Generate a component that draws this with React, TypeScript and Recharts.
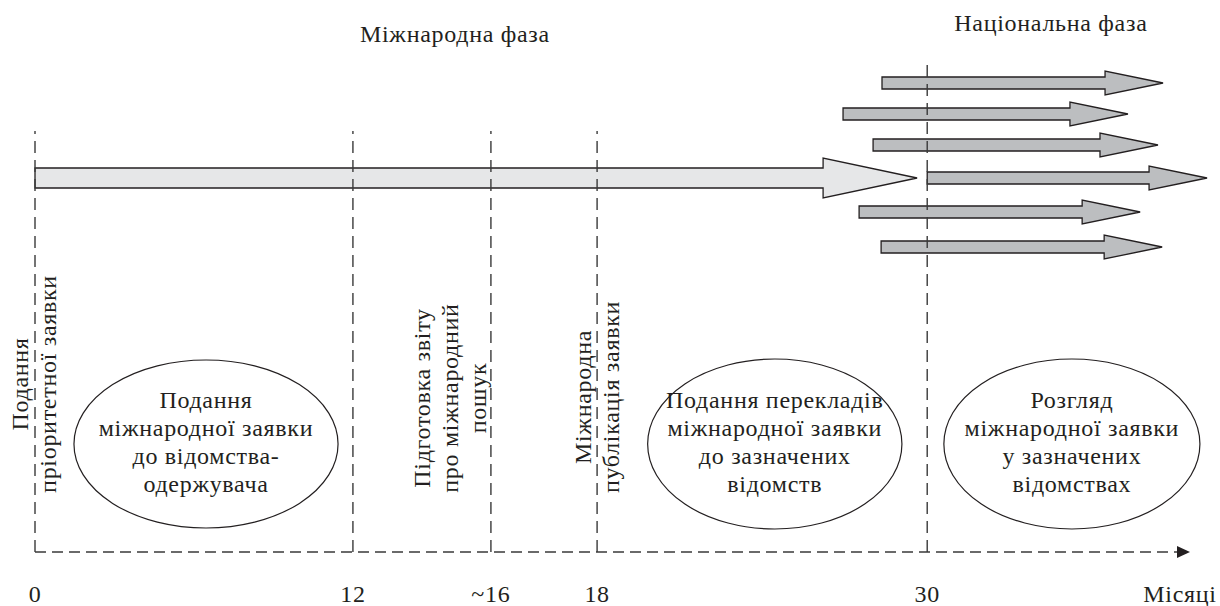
import React from 'react'
import {
  ComposedChart,
  XAxis,
  YAxis,
  Scatter,
  ReferenceArea,
  ReferenceLine,
  ReferenceDot,
} from 'recharts'

// schematic timeline: month labels and where they sit on the axis
const milestoneLabels = ['0', '12', '~16', '18', '30', 'Місяці']
const milestonePos = [0, 10.69, 15.33, 18.9, 30, 38.5]
const milestoneTop = [42.1, 42.1, 42.1, 42.1, 49.2]

// international phase arrow (priority date -> 30 months)
const intlArrow = { start: 0, end: 29.66, row: 37.4 }

// national phase arrows, one per designated office
const nationalStart = [28.48, 27.17, 28.18, 30, 27.71, 28.45]
const nationalEnd = [37.93, 36.75, 37.76, 39.41, 37.16, 37.9]
const nationalRow = [46.9, 43.8, 40.7, 37.4, 34.0, 30.5]

const phaseTitles = ['Міжнародна фаза', 'Національна фаза']
const phaseTitleX = [14.12, 34.16]
const phaseTitleY = [51.0, 52.1]

const milestoneNotes = [
  ['Подання', 'пріоритетної заявки'],
  ['Підготовка звіту', 'про міжнародний', 'пошук'],
  ['Міжнародна', 'публікація заявки'],
]
const noteX = [-0.24, 13.28, 18.7]
const noteY = [16.8, 15.4, 15.5]

const stageNotes = [
  ['Подання', 'міжнародної заявки', 'до відомства-', 'одержувача'],
  ['Подання перекладів', 'міжнародної заявки', 'до зазначених', 'відомств'],
  ['Розгляд', 'міжнародної заявки', 'у зазначених', 'відомствах'],
]
const stageX1 = [1.31, 20.6, 30.56]
const stageX2 = [10.19, 29.15, 39.17]
const stageY1 = [2.4, 2.3, 2.3]
const stageY2 = [19.2, 19.3, 19.3]

const timeline = milestonePos.map((x) => ({ x, y: 0 }))

const INK = '#231f20'
const FONT = 'Liberation Serif, Tinos, serif'
const FS = 24
const LINE = 28
const txt = { fontFamily: FONT, fontSize: FS, fill: INK, letterSpacing: 0.7 }

const arrowShape = (headLen: number, fill: string) => (props: any) => {
  const { x, y, width, height } = props
  const cy = y + height / 2
  const b = height / 4
  const hx = x + width - headLen
  const pts = [
    [x, cy - b],
    [hx, cy - b],
    [hx, y],
    [x + width, cy],
    [hx, y + height],
    [hx, cy + b],
    [x, cy + b],
  ]
  return (
    <polygon
      points={pts.map((p) => p.join(',')).join(' ')}
      fill={fill}
      stroke={INK}
      strokeWidth={1.3}
    />
  )
}

const ellipseShape = (lines: string[]) => (props: any) => {
  const { x, y, width, height } = props
  const cx = x + width / 2
  const cy = y + height / 2
  const first = cy - ((lines.length - 1) * LINE) / 2 + 6
  return (
    <g>
      <ellipse cx={cx} cy={cy} rx={width / 2} ry={height / 2} fill="#fff" stroke={INK} strokeWidth={1.2} />
      {lines.map((t, i) => (
        <text key={i} x={cx} y={first + i * LINE} textAnchor="middle" style={txt}>
          {t}
        </text>
      ))}
    </g>
  )
}

const rotatedNote = (lines: string[]) => (props: any) => {
  const { cx, cy } = props
  return (
    <g>
      {lines.map((t, i) => {
        const bx = cx + i * LINE
        return (
          <text key={i} x={bx} y={cy} transform={`rotate(-90, ${bx}, ${cy})`} textAnchor="middle" style={txt}>
            {t}
          </text>
        )
      })}
    </g>
  )
}

const titleShape = (label: string) => (props: any) => (
  <text x={props.cx} y={props.cy} textAnchor="middle" style={txt}>
    {label}
  </text>
)

const axisHead = (props: any) => {
  const { cx, cy } = props
  return <polygon points={`${cx - 3},${cy - 6} ${cx + 10},${cy} ${cx - 3},${cy + 6}`} fill={INK} />
}

export default function App() {
  return (
    <div style={{ position: 'absolute', left: 0, top: 0, background: '#fff', fontFamily: FONT }}>
      <ComposedChart
        width={1220}
        height={606}
        data={timeline}
        margin={{ top: 0, right: 40, bottom: 0, left: 35 }}
      >
        <XAxis
          type="number"
          dataKey="x"
          domain={[0, 38.5]}
          ticks={milestonePos}
          interval={0}
          height={54}
          tickLine={false}
          tickMargin={27}
          axisLine={{ stroke: '#3a3a3a', strokeDasharray: '11 6', strokeWidth: 1.4 }}
          tick={{ style: txt, fill: INK, fontSize: FS }}
          tickFormatter={(v: number) => milestoneLabels[milestonePos.indexOf(v)]}
        />
        <YAxis type="number" dataKey="y" domain={[0, 55.2]} hide />
        <Scatter dataKey="y" fill="none" isAnimationActive={false} shape={() => <g />} />

        {milestoneTop.slice(0, 4).map((top, i) => (
          <ReferenceLine
            key={`m${i}`}
            segment={[{ x: milestonePos[i], y: 0 }, { x: milestonePos[i], y: top }]}
            stroke="#3a3a3a"
            strokeWidth={1.4}
            strokeDasharray="12 7"
          />
        ))}

        <ReferenceArea
          x1={intlArrow.start}
          x2={intlArrow.end}
          y1={intlArrow.row - 2}
          y2={intlArrow.row + 2}
          ifOverflow="visible"
          shape={arrowShape(94, '#e6e7e8')}
        />

        {nationalRow.map((row, i) => (
          <ReferenceArea
            key={`n${i}`}
            x1={nationalStart[i]}
            x2={nationalEnd[i]}
            y1={row - 1.2}
            y2={row + 1.2}
            ifOverflow="visible"
            shape={arrowShape(58, '#bcbec0')}
          />
        ))}

        <ReferenceLine
          segment={[{ x: milestonePos[4], y: 0 }, { x: milestonePos[4], y: milestoneTop[4] }]}
          stroke="#3a3a3a"
          strokeWidth={1.4}
          strokeDasharray="12 7"
        />

        {stageNotes.map((lines, i) => (
          <ReferenceArea
            key={`s${i}`}
            x1={stageX1[i]}
            x2={stageX2[i]}
            y1={stageY1[i]}
            y2={stageY2[i]}
            ifOverflow="visible"
            shape={ellipseShape(lines)}
          />
        ))}

        {milestoneNotes.map((lines, i) => (
          <ReferenceDot
            key={`r${i}`}
            x={noteX[i]}
            y={noteY[i]}
            ifOverflow="visible"
            shape={rotatedNote(lines)}
          />
        ))}

        {phaseTitles.map((t, i) => (
          <ReferenceDot
            key={`t${i}`}
            x={phaseTitleX[i]}
            y={phaseTitleY[i]}
            ifOverflow="visible"
            shape={titleShape(t)}
          />
        ))}

        <ReferenceDot x={milestonePos[5]} y={0} ifOverflow="visible" shape={axisHead} />
      </ComposedChart>
    </div>
  )
}
